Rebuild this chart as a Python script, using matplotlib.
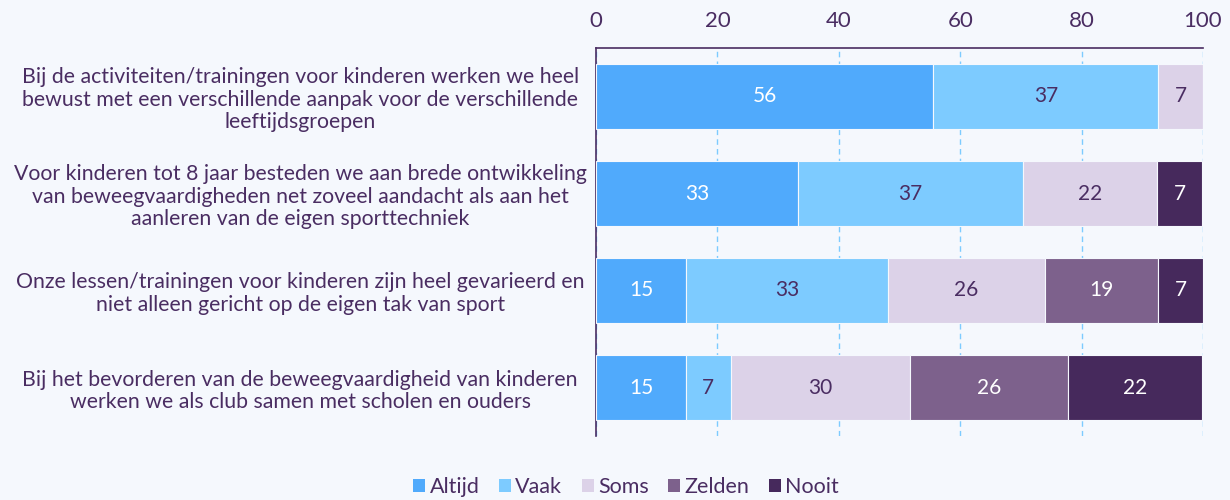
import matplotlib.pyplot as plt
from matplotlib.patches import Patch

# data (percentages)
vragen = [
    "Bij de activiteiten/trainingen voor kinderen werken we heel\nbewust met een verschillende aanpak voor de verschillende\nleeftijdsgroepen",
    "Voor kinderen tot 8 jaar besteden we aan brede ontwikkeling\nvan beweegvaardigheden net zoveel aandacht als aan het\naanleren van de eigen sporttechniek",
    "Onze lessen/trainingen voor kinderen zijn heel gevarieerd en\nniet alleen gericht op de eigen tak van sport",
    "Bij het bevorderen van de beweegvaardigheid van kinderen\nwerken we als club samen met scholen en ouders",
]
antwoorden = ["Altijd", "Vaak", "Soms", "Zelden", "Nooit"]
altijd = [55.6, 33.3, 14.8, 14.8]
vaak = [37.0, 37.0, 33.3, 7.4]
soms = [7.4, 22.2, 25.9, 29.6]
zelden = [0.0, 0.0, 18.6, 25.9]
nooit = [0.0, 7.4, 7.4, 22.2]

kleuren = ["#50aafc", "#7dcbff", "#dcd2e8", "#7d618c", "#46295c"]
tekstkleur = ["white", "#4a2d62", "#4a2d62", "white", "white"]
donker = "#4a2d62"
achtergrond = "#f5f8fd"

plt.rcParams['font.family'] = ['Lato', 'DejaVu Sans']

fig = plt.figure(figsize=(12.3, 5), dpi=100, facecolor=achtergrond)
ax = fig.add_axes([596 / 1230, 1 - 436 / 500, 607 / 1230, 388 / 500])
ax.set_facecolor(achtergrond)

y = range(len(vragen))
links = [0] * len(vragen)
for naam, reeks, kleur, tk in zip(antwoorden, [altijd, vaak, soms, zelden, nooit], kleuren, tekstkleur):
    ax.barh(y, reeks, left=links, height=0.66, color=kleur, edgecolor=achtergrond,
            linewidth=0.8, zorder=3)
    for i, w in enumerate(reeks):
        if w > 0:
            ax.text(links[i] + w / 2, i, f"{w:.0f}", ha='center', va='center',
                    color=tk, fontsize=15, zorder=4)
    links = [a + b for a, b in zip(links, reeks)]

ax.set_xlim(0, 100)
ax.set_ylim(3.5, -0.5)
ax.set_yticks(list(y))
ax.set_yticklabels(vragen, fontsize=15.3, color=donker, linespacing=1.15, ha='center')
ax.tick_params(axis='y', length=0, pad=213)
ax.xaxis.tick_top()
ax.set_xticks([0, 20, 40, 60, 80, 100])
ax.tick_params(axis='x', length=0, labelsize=16, labelcolor=donker, pad=12)
ax.grid(axis='x', color='#7dcbff', linestyle=(0, (4, 3)), linewidth=1, zorder=1)
for s in ['bottom', 'right']:
    ax.spines[s].set_visible(False)
for s in ['top', 'left']:
    ax.spines[s].set_color(donker)
    ax.spines[s].set_linewidth(1.2)

handles = [Patch(facecolor=k, label=a) for a, k in zip(antwoorden, kleuren)]
leg = fig.legend(handles=handles, loc='center', bbox_to_anchor=(626 / 1230, 1 - 487 / 500),
                 ncol=5, frameon=False, fontsize=15.5, handlelength=0.56, handleheight=0.56,
                 handletextpad=0.2, columnspacing=0.9)
for t in leg.get_texts():
    t.set_color(donker)

fig.savefig("out.png", dpi=100, facecolor=achtergrond)
